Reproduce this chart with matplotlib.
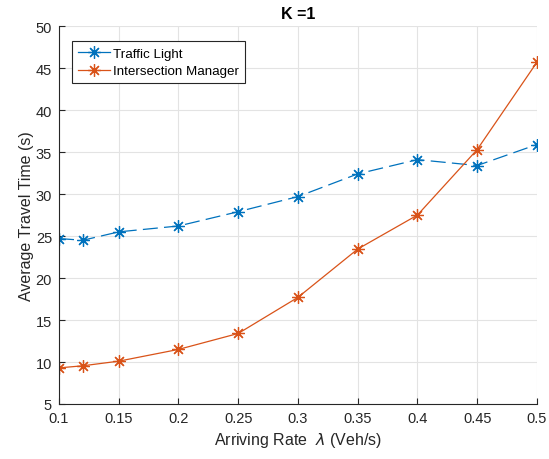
import matplotlib.pyplot as plt
from matplotlib.lines import Line2D

plt.rcParams["font.family"] = ["Liberation Sans", "DejaVu Sans"]

# arrival rates (veh/s)
rates = [0.1, 0.12, 0.15, 0.2, 0.25, 0.3, 0.35, 0.4, 0.45, 0.5]
# average travel time (s)
traffic_light = [24.7, 24.5, 25.5, 26.2, 27.9, 29.7, 32.4, 34.1, 33.4, 35.9]
intersection_mgr = [9.3, 9.55, 10.1, 11.5, 13.4, 17.7, 23.45, 27.5, 35.3, 45.7]

x_ticks = [0.1, 0.15, 0.2, 0.25, 0.3, 0.35, 0.4, 0.45, 0.5]
y_ticks = list(range(5, 51, 5))

BLUE = "#0072BD"
ORANGE = "#D95319"
STAR = (8, 2, 0)  # matlab-style asterisk

fig = plt.figure(figsize=(5.49, 4.6), dpi=100)
ax = fig.add_axes([0.1075, 0.1196, 0.8705, 0.8214])

style = dict(linewidth=0.9, marker=STAR, markersize=9, markeredgewidth=0.9)
ax.plot(rates, traffic_light, color=BLUE, linestyle=(0, (12, 5)),
        label="Traffic Light", **style)
ax.plot(rates, intersection_mgr, color=ORANGE, linestyle="-",
        label="Intersection Manager", **style)

ax.set_xlim(0.1, 0.5)
ax.set_ylim(5, 50)
ax.set_xticks(x_ticks)
ax.set_xticklabels([f"{v:g}" for v in x_ticks])
ax.set_yticks(y_ticks)

ax.grid(True, color="#e3e3e3", linewidth=0.8)
ax.set_axisbelow(True)
for side in ["top", "right"]:
    ax.spines[side].set_visible(False)
for side in ["left", "bottom"]:
    ax.spines[side].set_color("#262626")
    ax.spines[side].set_linewidth(0.8)
ax.tick_params(direction="in", length=4, width=0.8, colors="#262626",
               labelsize=10.5, pad=5)

ax.set_xlabel("Arriving Rate  $\\lambda$ (Veh/s)", fontsize=11.5, color="#262626")
ax.set_ylabel("Average Travel Time (s)", fontsize=11.5, color="#262626",
              labelpad=1)
ax.set_title("K =1", fontsize=11.5, fontweight="bold", pad=6)

handles = [
    Line2D([], [], color=BLUE, linestyle="-", **style),
    Line2D([], [], color=ORANGE, linestyle="-", **style),
]
leg = ax.legend(handles, ["Traffic Light", "Intersection Manager"],
                loc="upper left", bbox_to_anchor=(0.027, 0.96), fancybox=False,
                edgecolor="#262626", framealpha=1, fontsize=9.6,
                handlelength=2.4, handletextpad=0.2, borderpad=0.45,
                labelspacing=0.4, borderaxespad=0)
leg.get_frame().set_linewidth(0.8)

fig.savefig("out.png", dpi=100)
